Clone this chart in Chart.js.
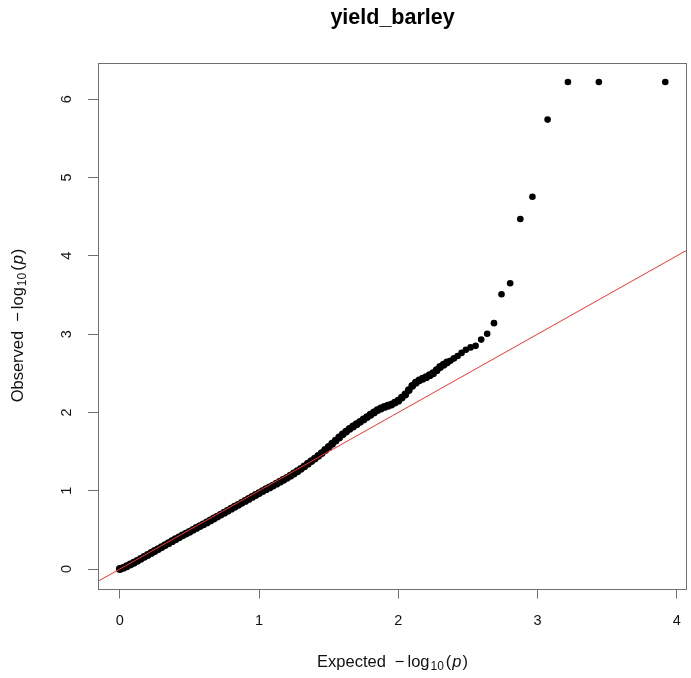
<!DOCTYPE html>
<html>
<head>
<meta charset="utf-8">
<script src="https://cdn.jsdelivr.net/npm/chart.js@4.4.1/dist/chart.umd.min.js"></script>
<style>
  html, body { margin: 0; padding: 0; background: #fff; }
  canvas { display: block; }
</style>
</head>
<body>
<canvas id="qq" width="691" height="678"></canvas>
<script>
// ---------- data ----------
const chartTitle = 'yield_barley';

// dense part of the QQ curve
const expectedDense = [
  0.000, 0.025, 0.050, 0.075, 0.100, 0.125, 0.150, 0.175, 0.200, 0.225,
  0.250, 0.275, 0.300, 0.325, 0.350, 0.375, 0.400, 0.425, 0.450, 0.475,
  0.500, 0.525, 0.550, 0.575, 0.600, 0.625, 0.650, 0.675, 0.700, 0.725,
  0.750, 0.775, 0.800, 0.825, 0.850, 0.875, 0.900, 0.925, 0.950, 0.975,
  1.000, 1.025, 1.050, 1.075, 1.100, 1.125, 1.150, 1.175, 1.200, 1.225,
  1.250, 1.275, 1.300, 1.325, 1.350, 1.375, 1.400, 1.425, 1.450, 1.475,
  1.500, 1.525, 1.550, 1.575, 1.600, 1.625, 1.650, 1.675, 1.700, 1.725,
  1.750, 1.775, 1.800, 1.825, 1.850, 1.875, 1.900, 1.925, 1.950, 1.975,
  2.000, 2.025, 2.050, 2.075, 2.100, 2.125, 2.150, 2.175, 2.200, 2.225,
  2.250, 2.275, 2.300, 2.325, 2.350
];
const observedDense = [
  0.000, 0.015, 0.035, 0.058, 0.080, 0.105, 0.130, 0.155, 0.180, 0.205,
  0.230, 0.255, 0.280, 0.305, 0.330, 0.355, 0.380, 0.405, 0.430, 0.452,
  0.475, 0.500, 0.525, 0.548, 0.570, 0.595, 0.620, 0.645, 0.670, 0.695,
  0.720, 0.745, 0.770, 0.795, 0.820, 0.845, 0.870, 0.895, 0.920, 0.945,
  0.970, 0.995, 1.020, 1.042, 1.065, 1.090, 1.115, 1.140, 1.165, 1.192,
  1.220, 1.250, 1.280, 1.312, 1.345, 1.378, 1.410, 1.445, 1.480, 1.520,
  1.560, 1.600, 1.640, 1.680, 1.720, 1.755, 1.790, 1.820, 1.850, 1.880,
  1.910, 1.940, 1.970, 2.000, 2.030, 2.050, 2.070, 2.085, 2.100, 2.125,
  2.150, 2.190, 2.230, 2.285, 2.340, 2.380, 2.410, 2.430, 2.450, 2.475,
  2.500, 2.540, 2.580, 2.610, 2.640
];

// separate points in the upper tail
const expectedTail = [
  2.374, 2.399, 2.426, 2.454, 2.485, 2.519, 2.555, 2.595, 2.638, 2.687,
  2.741, 2.803, 2.876, 2.963, 3.072, 3.218, 3.440, 3.917
];
const observedTail = [
  2.660, 2.690, 2.720, 2.760, 2.800, 2.830, 2.850, 2.930, 3.005, 3.140,
  3.510, 3.650, 4.470, 4.755, 5.740, 6.220, 6.220, 6.220
];

// axis ranges and ticks
const xRange = [-0.1567, 4.0737];
const yRange = [-0.249, 6.469];
const tickStep = 1;

// ---------- build datasets ----------
const densePts = expectedDense.map((x, i) => ({ x, y: observedDense[i] }));
const tailPts = expectedTail.map((x, i) => ({ x, y: observedTail[i] }));
const refLine = [ { x: xRange[0], y: xRange[0] }, { x: xRange[1], y: xRange[1] } ];

const FONT = '"Liberation Sans", Arial, Helvetica, sans-serif';

// rich text for the axis titles (subscript 10 + italic p)
function richParts(word) {
  return [
    { t: word, size: 16.5, gap: 9 },
    { t: '\u2212', size: 16.5, gap: 3 },
    { t: 'log', size: 16.5, gap: 1 },
    { t: '10', size: 12, dy: 5, gap: 2 },
    { t: '(', size: 16.5, gap: 1 },
    { t: 'p', size: 16.5, italic: true, gap: 1 },
    { t: ')', size: 16.5 }
  ];
}
function drawRich(ctx, parts, cx, cy, rot) {
  ctx.save();
  ctx.translate(cx, cy);
  ctx.rotate(rot);
  ctx.fillStyle = '#111';
  ctx.textBaseline = 'middle';
  ctx.textAlign = 'left';
  let total = 0;
  parts.forEach(p => {
    ctx.font = (p.italic ? 'italic ' : '') + p.size + 'px ' + FONT;
    p.w = ctx.measureText(p.t).width + (p.gap || 0);
    total += p.w;
  });
  let x = -total / 2;
  parts.forEach(p => {
    ctx.font = (p.italic ? 'italic ' : '') + p.size + 'px ' + FONT;
    ctx.fillText(p.t, x, p.dy || 0);
    x += p.w;
  });
  ctx.restore();
}

const framePlugin = {
  id: 'frame',
  afterDraw(chart) {
    const { ctx, chartArea: a } = chart;
    ctx.save();
    ctx.strokeStyle = '#707070';
    ctx.lineWidth = 1;
    ctx.strokeRect(Math.round(a.left) + 0.5, Math.round(a.top) + 0.5,
      Math.round(a.right - a.left) - 1, Math.round(a.bottom - a.top));
    ctx.restore();
    drawRich(ctx, richParts('Expected'), (a.left + a.right) / 2, 662, 0);
    drawRich(ctx, richParts('Observed'), 18, (a.top + a.bottom) / 2, -Math.PI / 2);
  }
};

// ---------- chart ----------
const ctx = document.getElementById('qq').getContext('2d');
new Chart(ctx, {
  type: 'scatter',
  data: {
    datasets: [
      { type: 'line', data: refLine, borderColor: '#ff3333', borderWidth: 1,
        pointRadius: 0, fill: false, tension: 0 },
      { data: tailPts, backgroundColor: '#000', borderColor: '#000', borderWidth: 0,
        pointRadius: 3.3, pointHoverRadius: 3.3 },
      { data: densePts, backgroundColor: '#000', borderColor: '#000', borderWidth: 0,
        pointRadius: 3.9, pointHoverRadius: 3.9 }
    ]
  },
  options: {
    responsive: false,
    animation: false,
    events: [],
    layout: { padding: { right: -3 } },
    plugins: {
      legend: { display: false },
      tooltip: { enabled: false },
      title: {
        display: true, text: chartTitle, fullSize: false, color: '#000',
        font: { family: FONT, size: 21.5, weight: 'bold' },
        padding: { top: 5, bottom: 31.7 }
      }
    },
    scales: {
      x: {
        type: 'linear', min: xRange[0], max: xRange[1],
        border: { display: false },
        grid: { drawOnChartArea: false, tickLength: 10, tickColor: '#707070' },
        ticks: { stepSize: tickStep, includeBounds: false, maxRotation: 0, padding: 14,
                 color: '#111', font: { family: FONT, size: 14.5 } },
        afterFit: s => { s.height = 89.5; s.paddingLeft = 0; s.paddingRight = 0; }
      },
      y: {
        type: 'linear', min: yRange[0], max: yRange[1],
        border: { display: false },
        grid: { drawOnChartArea: false, tickLength: 10, tickColor: '#707070' },
        ticks: { stepSize: tickStep, includeBounds: false, minRotation: 90, maxRotation: 90,
                 crossAlign: 'center', padding: 17, color: '#111', font: { family: FONT, size: 14.5 } },
        afterFit: s => { s.width = 98; s.paddingTop = 0; s.paddingBottom = 0; }
      }
    }
  },
  plugins: [framePlugin]
});
</script>
</body>
</html>
